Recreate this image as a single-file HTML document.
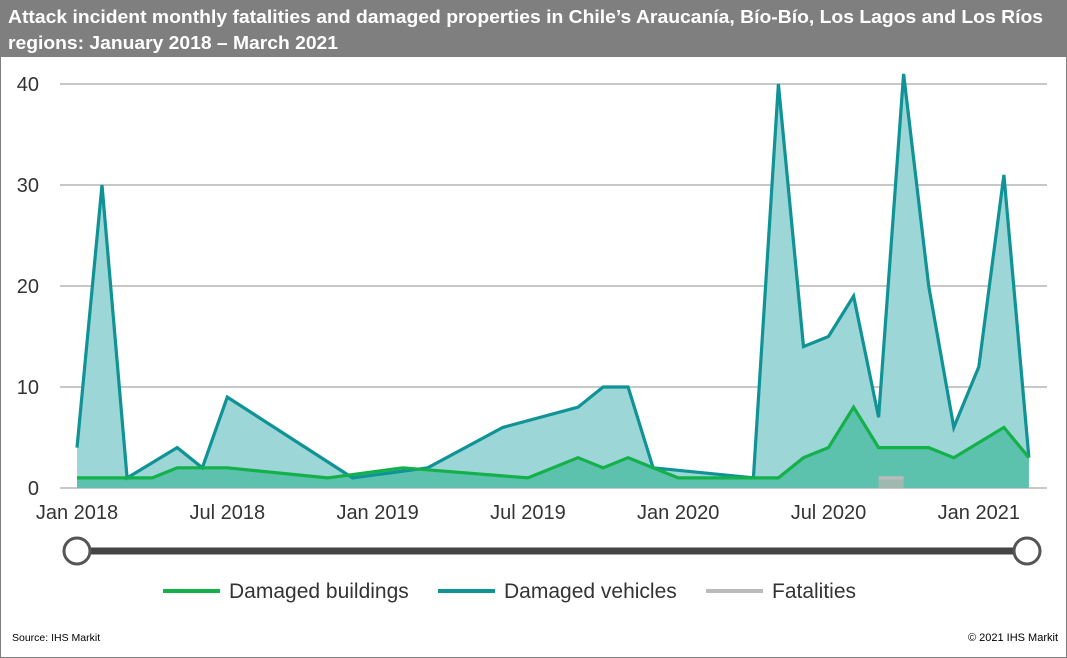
<!DOCTYPE html>
<html><head><meta charset="utf-8"><style>
body{margin:0;background:#fff;font-family:"Liberation Sans",sans-serif}
#wrap{position:relative;width:1067px;height:658px;overflow:hidden}
</style></head><body>
<div id="wrap">
<svg id="svg" width="1067" height="658" xmlns="http://www.w3.org/2000/svg" style="position:absolute;left:0;top:0">
<rect x="0.5" y="0.5" width="1066" height="657" fill="#fff" stroke="#7f7f7f"/>
<rect x="1" y="1" width="1065" height="56" fill="#7f7f7f"/>
<text x="8" y="23" fill="#fff" font-size="18" font-weight="bold" textLength="1035" lengthAdjust="spacingAndGlyphs">Attack incident monthly fatalities and damaged properties in Chile’s Araucanía, Bío-Bío, Los Lagos and Los Ríos</text>
<text x="8" y="49" fill="#fff" font-size="18" font-weight="bold" textLength="330" lengthAdjust="spacingAndGlyphs">regions: January 2018 – March 2021</text>
<g id="grid"></g><g id="areas"></g><g id="lines"></g><g id="labels"></g>
<line x1="77" y1="551" x2="1027" y2="551" stroke="#444" stroke-width="7"/>
<circle cx="77" cy="551" r="13" fill="#fff" stroke="#555" stroke-width="3"/>
<circle cx="1027" cy="551" r="13" fill="#fff" stroke="#555" stroke-width="3"/>
<g>
<line x1="163" y1="591" x2="220" y2="591" stroke="#14b04a" stroke-width="4"/>
<text x="229" y="598" font-size="21" fill="#333">Damaged buildings</text>
<line x1="438" y1="591" x2="495" y2="591" stroke="#0f9396" stroke-width="4"/>
<text x="504" y="598" font-size="21" fill="#333">Damaged vehicles</text>
<line x1="706" y1="591" x2="763" y2="591" stroke="#bbb" stroke-width="4"/>
<text x="772" y="598" font-size="21" fill="#333">Fatalities</text>
</g>
<text x="12" y="641" font-size="10.5" fill="#000">Source: IHS Markit</text>
<text x="1058" y="641" font-size="11" fill="#000" text-anchor="end">© 2021 IHS Markit</text>
</svg>
</div>
<script>
const yTicks=[0,10,20,30,40];
const xTickLabels=["Jan 2018","Jul 2018","Jan 2019","Jul 2019","Jan 2020","Jul 2020","Jan 2021"];
const xTickMonths=[0,6,12,18,24,30,36];
const vehMonths=[0,1,2,4,5,6,11,14,17,20,21,22,23,27,28,29,30,31,32,33,34,35,36,37,38];
const vehValues=[4,30,1,4,2,9,1,2,6,8,10,10,2,1,40,14,15,19,7,41,20,6,12,31,3];
const bldMonths=[0,1,2,3,4,5,6,10,13,18,20,21,22,24,28,29,30,31,32,33,34,35,37,38];
const bldValues=[1,1,1,1,2,2,2,1,2,1,3,2,3,1,1,3,4,8,4,4,4,3,6,3];
const fatMonths=[32,33];
const fatValues=[1,1];
const NS="http://www.w3.org/2000/svg";
function X(m){return 77+m*25.05;}
function Y(v){return 488-v*10.1;}
function mk(tag,attrs,parent){const e=document.createElementNS(NS,tag);for(const k in attrs)e.setAttribute(k,attrs[k]);document.getElementById(parent).appendChild(e);return e;}
yTicks.forEach(t=>{
  const g=mk('line',{x1:60,x2:1047,y1:Y(t),y2:Y(t),stroke:'#c8c8c8','stroke-width':2},'grid');
  
  
  const l=mk('text',{x:39,y:Y(t)+7,'text-anchor':'end','font-size':20,fill:'#333'},'labels');
  l.textContent=t;
  
  
});
xTickLabels.forEach((s,i)=>{
  const l=mk('text',{x:X(xTickMonths[i]),y:519,'text-anchor':'middle','font-size':20,fill:'#333'},'labels');
  l.textContent=s;
  
  
});
function pts(ms,vs){return ms.map((m,i)=>X(m).toFixed(1)+','+Y(vs[i]).toFixed(1));}
function area(ms,vs,fill,name){
  const p=pts(ms,vs);
  const d='M'+X(ms[0])+','+Y(0)+' L'+p.join(' L')+' L'+X(ms[ms.length-1])+','+Y(0)+' Z';
  const a=mk('path',{d:d,fill:fill},'areas');
  
  
}
function line(ms,vs,stroke,name){
  const l=mk('polyline',{points:pts(ms,vs).join(' '),fill:'none',stroke:stroke,'stroke-width':3.2,'stroke-linejoin':'miter'},'lines');
  
  
}
area(vehMonths,vehValues,'#9dd6d6','vehicles-area');
area(bldMonths,bldValues,'#5cc2ad','buildings-area');
area(fatMonths,fatValues,'#9fb8b0','fatalities-area');
line(vehMonths,vehValues,'#0f9396','vehicles-line');
line(bldMonths,bldValues,'#14b04a','buildings-line');
line(fatMonths,fatValues,'#bbbbbb','fatalities-line');
</script>
</body></html>
